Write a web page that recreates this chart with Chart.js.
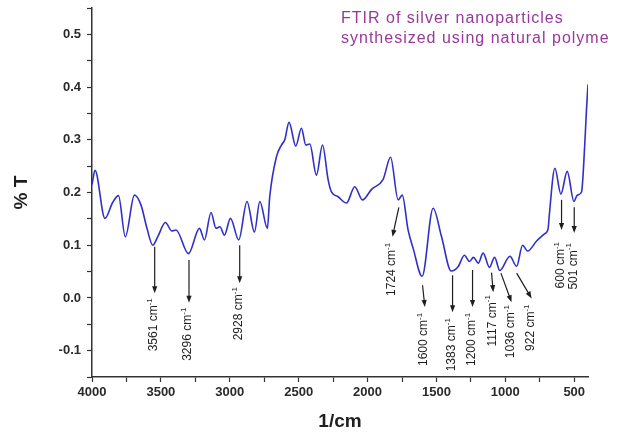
<!DOCTYPE html>
<html>
<head>
<meta charset="utf-8">
<script src="https://cdn.jsdelivr.net/npm/chart.js@4"></script>
<style>
  html, body { margin: 0; padding: 0; background: #fff; }
  #wrap { width: 622px; height: 432px; }
</style>
</head>
<body>
<div id="wrap"><canvas id="c"></canvas></div>
<script>
// wavenumber (1/cm) and %T
const wavenumbers = [4000, 3978, 3906, 3850, 3808, 3758, 3692, 3644, 3601, 3559, 3523, 3467, 3421, 3390,
  3300, 3220, 3184, 3136, 3100, 3071, 3039, 2995, 2935, 2875, 2821, 2782, 2727, 2710, 2661, 2625, 2601,
  2570, 2521, 2480, 2448, 2419, 2371, 2327, 2286, 2262, 2214, 2153, 2093, 2037, 1971, 1887, 1833, 1778,
  1748, 1706, 1669, 1604, 1524, 1463, 1393, 1343, 1297, 1260, 1231, 1197, 1161, 1115, 1078, 1040, 967,
  918, 875, 838, 773, 713, 689, 682, 640, 597, 551, 502, 478, 447, 423, 411, 400];
const transmittance = [0.215, 0.242, 0.151, 0.181, 0.194, 0.116, 0.195, 0.176, 0.132, 0.100, 0.116, 0.143, 0.127, 0.129,
  0.084, 0.132, 0.110, 0.162, 0.132, 0.135, 0.119, 0.151, 0.110, 0.183, 0.125, 0.183, 0.132, 0.192, 0.268, 0.290, 0.300,
  0.333, 0.288, 0.322, 0.290, 0.292, 0.233, 0.290, 0.224, 0.201, 0.192, 0.180, 0.211, 0.186, 0.206, 0.225, 0.267, 0.186,
  0.195, 0.129, 0.094, 0.041, 0.170, 0.116, 0.051, 0.059, 0.081, 0.069, 0.077, 0.066, 0.085, 0.058, 0.077, 0.052, 0.079,
  0.060, 0.100, 0.089, 0.108, 0.122, 0.132, 0.154, 0.246, 0.197, 0.240, 0.183, 0.195, 0.201, 0.294, 0.357, 0.405];

// peak annotations: label, arrow tail and head in data units
const peakLabels = ['3561', '3296', '2928', '1724', '1600', '1383', '1200', '1117', '1036', '922', '600', '501'];
const arrowTailX = [3545, 3296, 2928, 1773, 1601, 1383, 1238, 1100, 1032, 918, 592, 500];
const arrowTailY = [0.097, 0.072, 0.100, 0.172, 0.024, 0.043, 0.053, 0.048, 0.047, 0.047, 0.186, 0.172];
const arrowHeadX = [3545, 3296, 2928, 1819, 1584, 1383, 1238, 1088, 955, 809, 592, 500];
const arrowHeadY = [0.009, -0.009, 0.028, 0.116, -0.017, -0.027, -0.017, 0.011, -0.008, -0.001, 0.129, 0.123];
const labelGap = [5, 5, 4, 6, 6, 6, 6, 3, 3, 6, 12, 10];

const noteLines = ['FTIR of silver nanoparticles', 'synthesized using natural polyme'];

const points = wavenumbers.map((w, i) => ({ x: w, y: transmittance[i] }));

const peakArrows = {
  id: 'peakArrows',
  afterDatasetsDraw(chart) {
    const ctx = chart.ctx;
    const xs = chart.scales.x, ys = chart.scales.y;
    ctx.save();
    ctx.strokeStyle = '#1e1e1e';
    ctx.fillStyle = '#1e1e1e';
    ctx.lineWidth = 1.2;
    peakLabels.forEach((lab, i) => {
      const x1 = xs.getPixelForValue(arrowTailX[i]), y1 = ys.getPixelForValue(arrowTailY[i]);
      const x2 = xs.getPixelForValue(arrowHeadX[i]), y2 = ys.getPixelForValue(arrowHeadY[i]);
      const ang = Math.atan2(y2 - y1, x2 - x1);
      const hl = 7, hw = 2.6;
      ctx.beginPath();
      ctx.moveTo(x1, y1);
      ctx.lineTo(x2 - Math.cos(ang) * hl * 0.6, y2 - Math.sin(ang) * hl * 0.6);
      ctx.stroke();
      ctx.beginPath();
      ctx.moveTo(x2, y2);
      ctx.lineTo(x2 - Math.cos(ang) * hl - Math.sin(ang) * hw, y2 - Math.sin(ang) * hl + Math.cos(ang) * hw);
      ctx.lineTo(x2 - Math.cos(ang) * hl + Math.sin(ang) * hw, y2 - Math.sin(ang) * hl - Math.cos(ang) * hw);
      ctx.closePath();
      ctx.fill();

      // rotated label, reading bottom to top, ending just under the arrow head
      ctx.save();
      ctx.translate(x2 - 1, y2 + labelGap[i]);
      ctx.rotate(-Math.PI / 2);
      ctx.font = '12px Arial, "Liberation Sans", sans-serif';
      const main = lab + ' cm';
      const wMain = ctx.measureText(main).width;
      ctx.font = '8px Arial, "Liberation Sans", sans-serif';
      const wSup = ctx.measureText('-1').width;
      const start = -(wMain + wSup);
      ctx.textAlign = 'left';
      ctx.textBaseline = 'middle';
      ctx.font = '12px Arial, "Liberation Sans", sans-serif';
      ctx.fillText(main, start, 0);
      ctx.font = '8px Arial, "Liberation Sans", sans-serif';
      ctx.fillText('-1', start + wMain, -4);
      ctx.restore();
    });

    // purple note in the top right corner
    ctx.fillStyle = '#97399a';
    ctx.font = '16px Arial, "Liberation Sans", sans-serif';
    ctx.letterSpacing = '1px';
    ctx.textAlign = 'left';
    ctx.textBaseline = 'middle';
    noteLines.forEach((t, i) => ctx.fillText(t, 341, 19 + i * 20));
    ctx.restore();
  }
};

const tickFont = { family: 'Arial, "Liberation Sans", sans-serif', size: 13, weight: 'bold' };

new Chart(document.getElementById('c'), {
  type: 'line',
  data: {
    datasets: [{
      data: points,
      borderColor: '#3030c8',
      borderWidth: 1.6,
      pointRadius: 0,
      cubicInterpolationMode: 'monotone',
      fill: false
    }]
  },
  options: {
    responsive: true,
    maintainAspectRatio: false,
    animation: false,
    devicePixelRatio: 1,
    layout: { padding: { top: 8, right: 34, left: 0, bottom: 0 } },
    plugins: { legend: { display: false }, tooltip: { enabled: false } },
    scales: {
      x: {
        type: 'linear',
        reverse: true,
        min: 400,
        max: 4000,
        afterFit: s => { s.height = 55; s.paddingLeft = 0; s.paddingRight = 0; },
        ticks: {
          stepSize: 250,
          includeBounds: false,
          autoSkip: false,
          maxRotation: 0,
          padding: 3,
          color: '#2a2a2a',
          font: tickFont,
          callback: v => (v % 500 === 0 ? String(v) : '')
        },
        grid: { drawOnChartArea: false, tickLength: 5, color: '#333', tickWidth: 1.2 },
        border: { display: true, color: '#333', width: 1.5 },
        title: {
          display: true, text: '1/cm', color: '#1e1e1e', padding: { top: 0, bottom: -1 },
          font: { family: 'Arial, "Liberation Sans", sans-serif', size: 19, weight: 'bold' }
        }
      },
      y: {
        min: -0.15,
        max: 0.55,
        afterFit: s => { s.width = 92; s.paddingTop = 0; s.paddingBottom = 0; },
        ticks: {
          stepSize: 0.05,
          includeBounds: false,
          autoSkip: false,
          padding: 6,
          color: '#2a2a2a',
          font: tickFont,
          callback: v => (Math.abs(v * 10 - Math.round(v * 10)) < 1e-6 ? v.toFixed(1) : '')
        },
        grid: { drawOnChartArea: false, tickLength: 5, color: '#333', tickWidth: 1.2 },
        border: { display: true, color: '#333', width: 1.5 },
        title: {
          display: true, text: '% T', color: '#1e1e1e', padding: { top: 10, bottom: 0 },
          font: { family: 'Arial, "Liberation Sans", sans-serif', size: 19, weight: 'bold' }
        }
      }
    }
  },
  plugins: [peakArrows]
});
</script>
</body>
</html>
